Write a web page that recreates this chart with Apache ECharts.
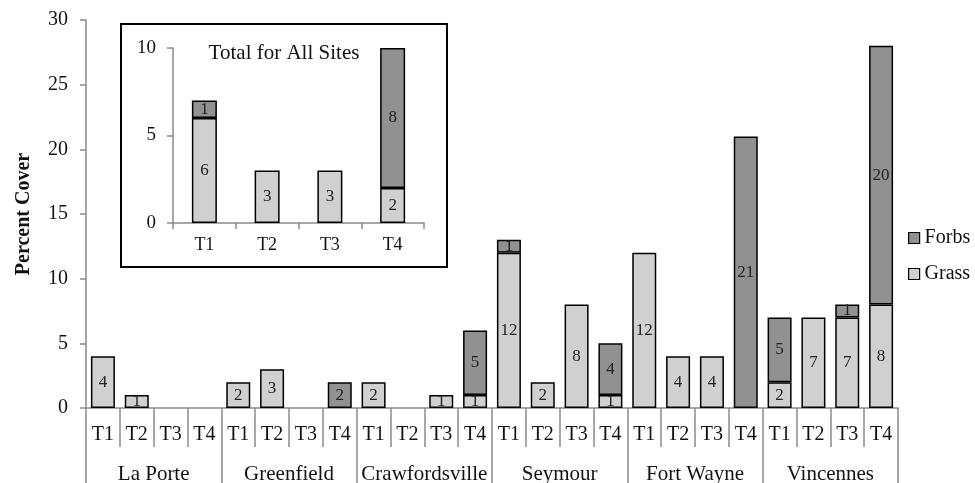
<!DOCTYPE html>
<html><head><meta charset="utf-8">
<script src="https://cdn.jsdelivr.net/npm/echarts@6/dist/echarts.min.js"></script>
<style>html,body{margin:0;padding:0;background:#fff}#c{width:975px;height:483px}</style>
</head><body><div id="c"></div>
<script>
var sites = ['La Porte','Greenfield','Crawfordsville','Seymour','Fort Wayne','Vincennes'];
var treatments = ['T1','T2','T3','T4'];
var grass = [4,1,null,null, 2,3,null,null, 2,null,1,1, 12,2,8,1, 12,4,4,null, 2,7,7,8];
var forbs = [null,null,null,null, null,null,null,2, null,null,null,5, 1,null,null,4, null,null,null,21, 5,null,1,20];
var totalGrass = [6,3,3,2];
var totalForbs = [1,null,null,8];
var yTicksMain = [0,30,5];
var yTicksInset = [0,10,5];

var FONT = "'Liberation Serif','Times New Roman',serif";
var GRASS = '#d0d0d0', FORBS = '#919191', AXIS = '#8a8a8a';
var cats = [];
sites.forEach(function(){ treatments.forEach(function(t){ cats.push(t); }); });

var chart = echarts.init(document.getElementById('c'), null, {renderer:'canvas'});
function lbl(){ return {show:true, position:'inside', color:'#222', fontFamily:FONT, fontSize:17,
  formatter:function(p){ return p.value==null?'':String(p.value);} }; }
function item(c){ return {color:c, borderColor:'#000', borderWidth:1.5}; }

chart.setOption({
  animation:false,
  backgroundColor:'#fff',
  textStyle:{fontFamily:FONT},
  grid:[
    {left:86, right:77, top:20, bottom:75, containLabel:false, outerBoundsMode:'none'},
    {left:173, top:48, width:251, height:175, containLabel:false, outerBoundsMode:'none'}
  ],
  legend:{
    data:['Forbs','Grass'], orient:'vertical', left:903, top:223, itemGap:16,
    icon:'rect', itemWidth:11, itemHeight:11,
    itemStyle:{borderColor:'#000', borderWidth:1.2},
    textStyle:{fontFamily:FONT, fontSize:20, color:'#111'}
  },
  xAxis:[
    {type:'category', gridIndex:0, data:cats, position:'bottom',
     axisLine:{lineStyle:{color:AXIS, width:1.5}},
     axisTick:{show:true, interval:0, length:39, lineStyle:{color:AXIS, width:1.5}},
     axisLabel:{interval:0, margin:17, color:'#111', fontSize:20, fontFamily:FONT}},
    {type:'category', gridIndex:0, data:sites, position:'bottom',
     axisLine:{show:false},
     axisTick:{show:true, interval:0, length:80, lineStyle:{color:AXIS, width:1.5}},
     axisLabel:{interval:0, margin:56, color:'#111', fontSize:21, fontFamily:FONT}},
    {type:'category', gridIndex:1, data:treatments,
     axisLine:{lineStyle:{color:AXIS, width:1.5}},
     axisTick:{show:true, length:6, lineStyle:{color:AXIS, width:1.5}},
     axisLabel:{margin:13, color:'#111', fontSize:18, fontFamily:FONT}}
  ],
  yAxis:[
    {type:'value', gridIndex:0, min:yTicksMain[0], max:yTicksMain[1], interval:yTicksMain[2],
     name:'Percent Cover', nameLocation:'middle', nameGap:52,
     nameTextStyle:{fontFamily:FONT, fontSize:20, fontWeight:'bold', color:'#111'},
     axisLine:{show:true, lineStyle:{color:AXIS, width:1.5}},
     axisTick:{show:true, length:6, lineStyle:{color:AXIS, width:1.5}},
     splitLine:{show:false},
     axisLabel:{margin:18, color:'#111', fontSize:20, fontFamily:FONT}},
    {type:'value', gridIndex:1, min:yTicksInset[0], max:yTicksInset[1], interval:yTicksInset[2],
     axisLine:{show:true, lineStyle:{color:AXIS, width:1.5}},
     axisTick:{show:true, length:6, lineStyle:{color:AXIS, width:1.5}},
     splitLine:{show:false},
     axisLabel:{margin:17, color:'#111', fontSize:19, fontFamily:FONT}}
  ],
  graphic:[
    {type:'rect', shape:{x:121, y:24, width:326, height:243}, style:{fill:null, stroke:'#000', lineWidth:2}, z:0},
    {type:'text', x:284, y:53, style:{text:'Total for All Sites', fontFamily:FONT, fontSize:21, fill:'#111', align:'center', verticalAlign:'middle'}}
  ],
  series:[
    {name:'Grass', type:'bar', stack:'main', xAxisIndex:0, yAxisIndex:0, data:grass, barWidth:24, itemStyle:item(GRASS), label:lbl()},
    {name:'Forbs', type:'bar', stack:'main', xAxisIndex:0, yAxisIndex:0, data:forbs, barWidth:24, itemStyle:item(FORBS), label:lbl()},
    {name:'Grass', type:'bar', stack:'inset', xAxisIndex:2, yAxisIndex:1, data:totalGrass, barWidth:25, itemStyle:item(GRASS), label:lbl()},
    {name:'Forbs', type:'bar', stack:'inset', xAxisIndex:2, yAxisIndex:1, data:totalForbs, barWidth:25, itemStyle:item(FORBS), label:lbl()}
  ]
});
</script></body></html>
